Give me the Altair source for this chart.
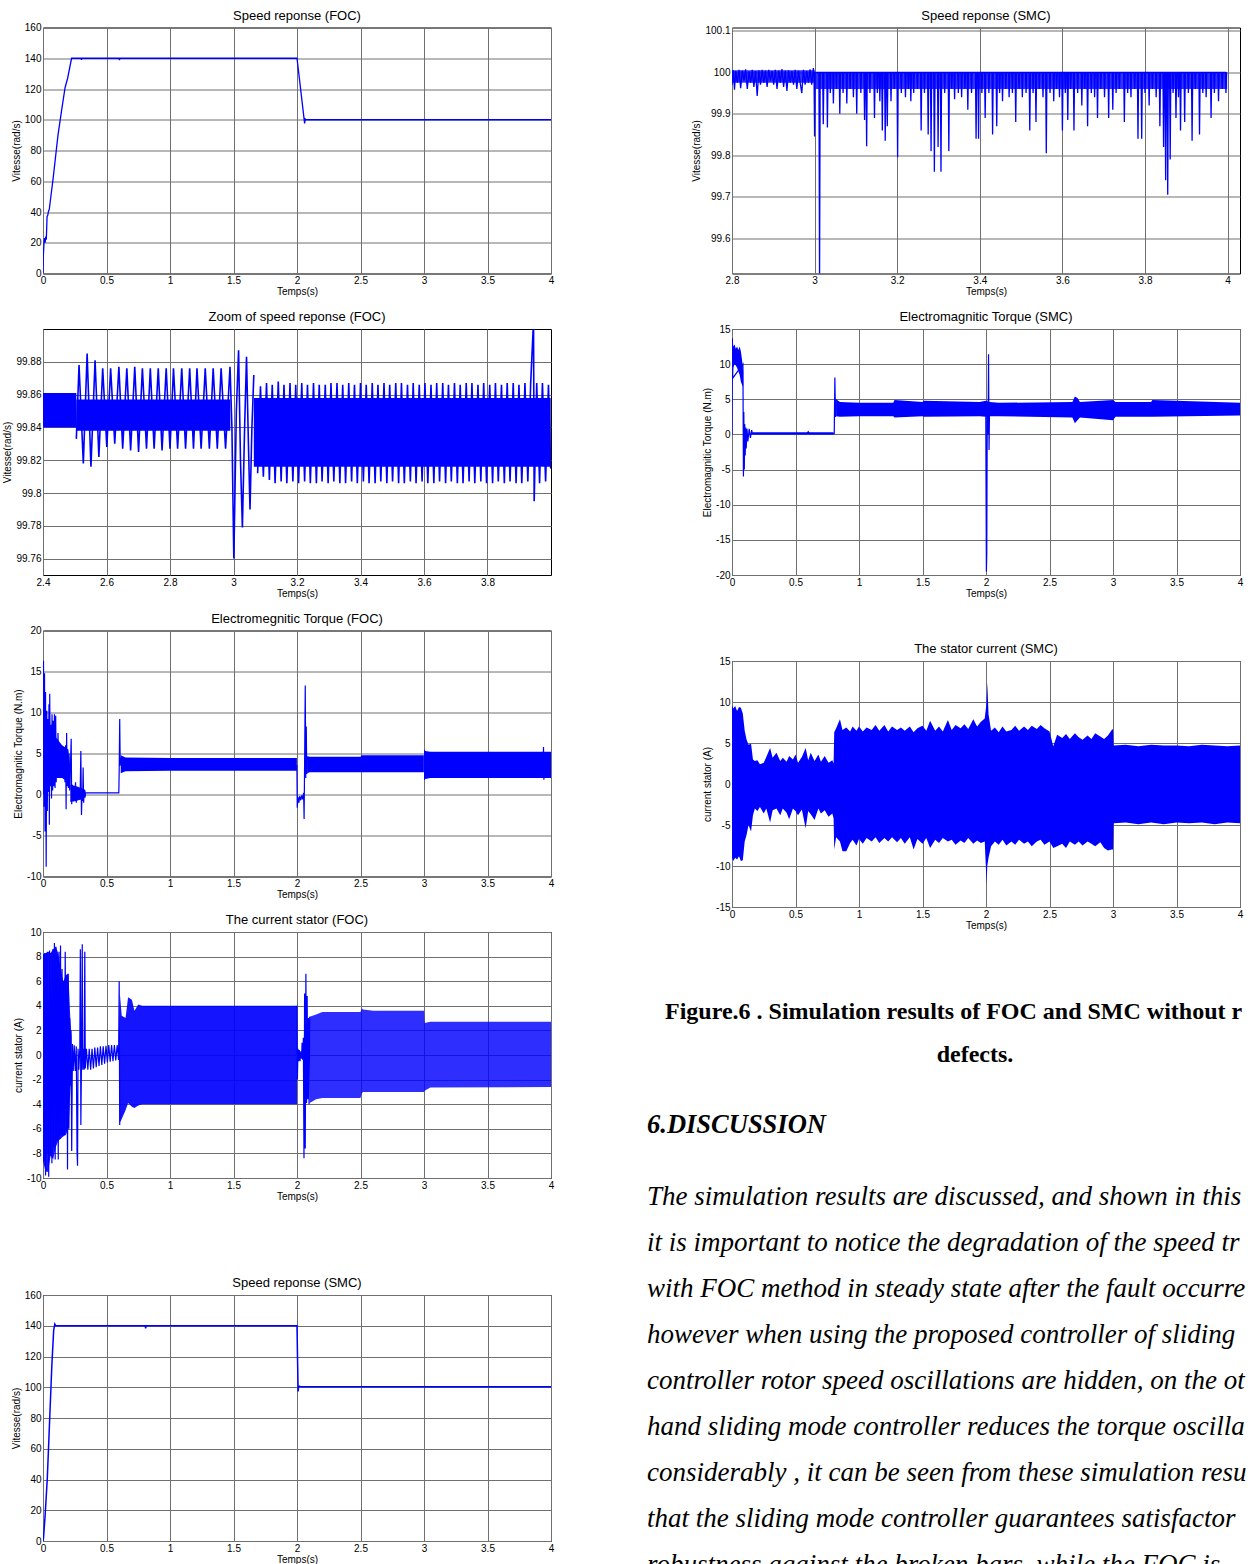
import altair as alt
import pandas as pd

BLUE = "#0000ff"
SANS = "Liberation Sans"
SERIF = "Liberation Serif"
PW, PH = 508, 246

# ---------------- tick values ----------------
ticks_t4 = [0, 0.5, 1, 1.5, 2, 2.5, 3, 3.5, 4]
ticks_zoom_foc_x = [2.4, 2.6, 2.8, 3, 3.2, 3.4, 3.6, 3.8]
ticks_zoom_smc_x = [2.8, 3, 3.2, 3.4, 3.6, 3.8, 4]
ticks_speed = [0, 20, 40, 60, 80, 100, 120, 140, 160]
ticks_zoom_foc_y = [99.76, 99.78, 99.8, 99.82, 99.84, 99.86, 99.88]
ticks_zoom_smc_y = [99.6, 99.7, 99.8, 99.9, 100, 100.1]
ticks_torque_foc = [-10, -5, 0, 5, 10, 15, 20]
ticks_current_foc = [-10, -8, -6, -4, -2, 0, 2, 4, 6, 8, 10]
ticks_torque_smc = [-20, -15, -10, -5, 0, 5, 10, 15]
ticks_current_smc = [-15, -10, -5, 0, 5, 10, 15]

# ---------------- Speed reponse (FOC) ----------------
foc_speed = [(0, 0), (0.003, 12), (0.008, 20), (0.012, 23), (0.017, 20), (0.022, 24), (0.026, 22),
             (0.032, 37), (0.038, 38), (0.042, 40), (0.05, 42), (0.056, 46), (0.08, 62), (0.118, 90),
             (0.15, 108), (0.174, 121), (0.194, 127), (0.225, 140), (0.3, 140), (0.303, 139), (0.306, 140),
             (0.6, 140), (0.602, 138.8), (0.605, 140), (2.0, 140), (2.06, 97.6), (2.065, 100.5),
             (2.072, 100), (4.0, 100)]

# ---------------- Zoom of speed reponse (FOC) ----------------
zoom_foc_band_a = [(2.4, 99.861, 99.840), (2.505, 99.861, 99.840)]
zoom_foc_band_b = [(2.505, 99.857, 99.838), (2.99, 99.857, 99.838)]
zoom_foc_band_c = [(3.064, 99.858, 99.816), (3.999, 99.858, 99.816)]
zoom_foc_transient = [(2.505, 99.833), (2.5135, 99.878), (2.527, 99.818), (2.539, 99.885), (2.551, 99.816),
                      (2.564, 99.881), (2.576, 99.822), (2.588, 99.876), (2.601, 99.828), (2.613, 99.876),
                      (2.626, 99.830), (2.639, 99.877), (2.651, 99.827), (2.664, 99.876), (2.676, 99.826),
                      (2.689, 99.877), (2.701, 99.825), (2.713, 99.876), (2.726, 99.827), (2.738, 99.876),
                      (2.750, 99.827), (2.763, 99.876), (2.775, 99.826), (2.788, 99.876), (2.800, 99.827),
                      (2.811, 99.876), (2.824, 99.827), (2.837, 99.876), (2.849, 99.827), (2.862, 99.876),
                      (2.874, 99.827), (2.885, 99.876), (2.898, 99.827), (2.911, 99.876), (2.924, 99.827),
                      (2.936, 99.876), (2.949, 99.827), (2.961, 99.876), (2.975, 99.827), (2.989, 99.877),
                      (2.995, 99.84), (3.001, 99.760), (3.009, 99.85), (3.016, 99.887), (3.022, 99.82),
                      (3.028, 99.779), (3.035, 99.84), (3.041, 99.883), (3.047, 99.83), (3.052, 99.790),
                      (3.058, 99.84), (3.064, 99.872)]
zoom_foc_tops = [(3.085, 99.865), (3.104, 99.867), (3.122, 99.866), (3.141, 99.868), (3.159, 99.866),
                 (3.178, 99.867), (3.196, 99.866), (3.215, 99.867), (3.233, 99.866), (3.252, 99.867),
                 (3.270, 99.866), (3.289, 99.866), (3.307, 99.867), (3.326, 99.867), (3.344, 99.866),
                 (3.363, 99.867), (3.381, 99.866), (3.400, 99.867), (3.418, 99.866), (3.437, 99.867),
                 (3.455, 99.866), (3.474, 99.867), (3.492, 99.866), (3.511, 99.867), (3.529, 99.867),
                 (3.548, 99.866), (3.566, 99.867), (3.585, 99.866), (3.603, 99.867), (3.622, 99.866),
                 (3.640, 99.867), (3.659, 99.867), (3.677, 99.866), (3.696, 99.867), (3.714, 99.866),
                 (3.733, 99.867), (3.751, 99.867), (3.770, 99.866), (3.788, 99.867), (3.807, 99.866),
                 (3.825, 99.867), (3.844, 99.866), (3.862, 99.867), (3.881, 99.867), (3.899, 99.866),
                 (3.918, 99.867), (3.936, 99.867), (3.945, 99.905), (3.955, 99.867), (3.973, 99.867),
                 (3.992, 99.866)]
zoom_foc_bottoms = [(3.076, 99.812), (3.094, 99.810), (3.113, 99.808), (3.131, 99.806), (3.150, 99.807),
                    (3.168, 99.806), (3.187, 99.807), (3.205, 99.806), (3.224, 99.807), (3.242, 99.806),
                    (3.261, 99.806), (3.279, 99.807), (3.298, 99.806), (3.316, 99.807), (3.335, 99.806),
                    (3.353, 99.806), (3.372, 99.807), (3.390, 99.806), (3.409, 99.807), (3.427, 99.806),
                    (3.446, 99.806), (3.464, 99.807), (3.483, 99.806), (3.501, 99.807), (3.520, 99.806),
                    (3.538, 99.806), (3.557, 99.807), (3.575, 99.806), (3.594, 99.807), (3.612, 99.806),
                    (3.631, 99.806), (3.649, 99.807), (3.668, 99.806), (3.686, 99.807), (3.705, 99.806),
                    (3.723, 99.806), (3.742, 99.807), (3.760, 99.806), (3.779, 99.807), (3.797, 99.806),
                    (3.816, 99.806), (3.834, 99.807), (3.853, 99.806), (3.871, 99.807), (3.890, 99.806),
                    (3.908, 99.806), (3.927, 99.807), (3.947, 99.795), (3.964, 99.806), (3.983, 99.807),
                    (3.999, 99.815)]

# ---------------- Electromegnitic Torque (FOC) ----------------
foc_torque_start = [(0, 0), (0.004, 16.3), (0.008, -1.5), (0.012, 14.8), (0.016, -4.5), (0.02, 12.5),
                    (0.025, -8.8), (0.03, 10.2), (0.034, -2), (0.038, 9.2), (0.042, 0.3), (0.047, 11),
                    (0.05, -3.7), (0.053, 12.3), (0.058, 1), (0.063, 8.5), (0.067, -0.5), (0.071, 9.8),
                    (0.076, 0.5), (0.08, 9), (0.085, 1), (0.09, 9.8), (0.095, 0.8), (0.1, 9.6), (0.104, 1.5),
                    (0.109, 6), (0.113, 2), (0.118, 7.5), (0.123, 2.3), (0.128, 5.5), (0.133, 2.5),
                    (0.138, 4.8), (0.143, 2.8), (0.148, 5), (0.153, 2.6), (0.158, 4.5), (0.163, 2.4),
                    (0.168, 5.2), (0.173, 1.5), (0.178, 6), (0.182, -1.8), (0.186, 7.5), (0.19, 1),
                    (0.195, 4), (0.2, 0.8), (0.205, 5), (0.21, 0.5), (0.215, 3), (0.222, 6.8),
                    (0.226, -1.2), (0.232, 1.2), (0.238, -0.6), (0.244, 1), (0.25, -0.7), (0.256, 1.5),
                    (0.262, -1), (0.268, 0.8), (0.274, -0.5), (0.28, 0.6), (0.287, -0.4), (0.293, 0.5),
                    (0.298, 5.3), (0.303, -2.5), (0.308, 0.5), (0.312, -0.8), (0.316, 3.3), (0.32, -1),
                    (0.325, 0.6), (0.33, -0.4), (0.335, 0.2), (0.597, 0.2), (0.6, 3), (0.604, 9.2),
                    (0.608, 3.5), (0.612, 4.5)]
foc_torque_fault = [(1.999, 3.6), (2.002, -1.6), (2.008, -0.3), (2.015, -1), (2.022, -0.2), (2.03, -0.7),
                    (2.038, -0.1), (2.045, -0.6), (2.052, 0.2), (2.056, -3), (2.06, 4), (2.065, 13.3),
                    (2.069, 2), (2.073, 8.3), (2.077, 2.5), (2.082, 4.5)]
foc_torque_spike = [(3.938, 3.5), (3.941, 5.8), (3.944, 1.8), (3.947, 3.5)]
foc_torque_band_a = [(0.012, 6.0, 1.0), (0.05, 7.0, 1.5), (0.1, 7.0, 2.0), (0.15, 6.0, 2.0), (0.2, 5.5, 1.5),
                     (0.215, 3.0, 0.5)]
foc_torque_band_b = [(0.215, 1.2, -0.9), (0.26, 1.0, -0.8), (0.3, 0.8, -0.6), (0.335, 0.5, -0.2)]
foc_torque_band_c = [(0.612, 4.8, 2.6), (0.65, 4.5, 2.85), (1.0, 4.45, 2.9), (1.5, 4.45, 2.9), (1.999, 4.45, 2.9)]
foc_torque_band_d = [(2.08, 4.7, 2.6), (2.1, 4.6, 2.7), (2.5, 4.6, 2.7), (2.51, 4.8, 2.7), (2.999, 4.8, 2.7)]
foc_torque_band_e = [(3.0, 5.5, 1.7), (3.01, 5.3, 1.9), (3.05, 5.2, 2.0), (4.0, 5.2, 2.0)]

# ---------------- The current stator (FOC) ----------------
foc_current_start = [(0, 0), (0.004, 8.2), (0.008, -8.6), (0.014, 8.3), (0.02, -9.8), (0.026, 8.3),
                     (0.032, -8), (0.038, 8.4), (0.045, -9.9), (0.052, 8.5), (0.058, -8.2), (0.064, 8.3),
                     (0.07, -8.8), (0.077, 8.6), (0.083, -7.5), (0.09, 9.1), (0.096, -8.5), (0.102, 8.8),
                     (0.108, -7), (0.114, 8.2), (0.12, -8.5), (0.126, 8.4), (0.132, -6.8), (0.138, 8.9),
                     (0.144, -6.5), (0.15, 7), (0.156, -6.6), (0.162, 6), (0.168, -6.5), (0.175, 8.4),
                     (0.182, -6.2), (0.188, 6.5), (0.193, -9.3), (0.198, 6.6), (0.204, -6), (0.21, 3),
                     (0.215, -2.5), (0.22, 2), (0.226, -7.8), (0.232, 0.9), (0.238, -1.3), (0.246, 0.8),
                     (0.254, -1.3), (0.262, 0.7), (0.268, -7.8), (0.272, -9.0), (0.276, 0.5), (0.282, -1.2),
                     (0.29, 0.6), (0.294, 8.6), (0.298, -5.7), (0.304, 0.4), (0.309, 9.0), (0.313, -1.2),
                     (0.318, 0.5), (0.324, -1.2), (0.329, 8.4), (0.333, -1.1), (0.342, 0.5), (0.353, -1.2),
                     (0.364, 0.5), (0.375, -1.2), (0.386, 0.5), (0.397, -1.1), (0.408, 0.6), (0.419, -1.0),
                     (0.43, 0.6), (0.441, -0.9), (0.452, 0.7), (0.463, -0.8), (0.474, 0.7), (0.485, -0.7),
                     (0.496, 0.75), (0.507, -0.6), (0.518, 0.8), (0.529, -0.55), (0.54, 0.8), (0.551, -0.5),
                     (0.562, 0.8), (0.573, -0.45), (0.584, 0.8), (0.595, -0.4), (0.6, 6.0), (0.604, -5.7)]
foc_current_fault = [(2.0, 4.0), (2.003, -2.0), (2.008, 0.5), (2.013, -0.5), (2.018, 0.4), (2.024, -0.5),
                     (2.03, 0.3), (2.036, -0.3), (2.04, 1.0), (2.046, -0.4), (2.05, 1.4), (2.055, -8.4),
                     (2.06, 5.0), (2.065, -7.6), (2.07, 6.6), (2.075, -3.9), (2.08, 4.8), (2.085, -3.6),
                     (2.09, 3.0), (2.095, -4.0), (2.1, 3.1)]
foc_current_band_a = [(0, 8.2, -8.6), (0.02, 8.3, -9.5), (0.04, 8.4, -9.5), (0.06, 8.3, -8.2), (0.08, 8.6, -8.5),
                      (0.1, 8.8, -7.5), (0.12, 8.3, -7.0), (0.14, 7.0, -6.8), (0.16, 6.0, -6.6), (0.18, 6.5, -6.5),
                      (0.2, 6.6, -6.0), (0.215, 3.0, -3.0), (0.225, 1.5, -1.2)]
foc_current_band_b = [(0.605, 5.0, -5.5), (0.62, 3.2, -5.2), (0.65, 3.0, -4.5), (0.67, 4.7, -3.9), (0.7, 4.5, -4.2),
                      (0.72, 3.6, -4.3), (0.75, 4.1, -4.1), (0.78, 4.0, -4.0), (0.8, 4.0, -4.0), (2.0, 4.0, -4.0)]
foc_current_band_c = [(2.1, 3.1, -3.9), (2.15, 3.3, -3.6), (2.2, 3.5, -3.5), (2.3, 3.5, -3.5), (2.5, 3.5, -3.5),
                      (2.51, 3.8, -3.1), (2.52, 3.7, -3.0), (2.6, 3.6, -3.0), (3.0, 3.6, -3.0)]
foc_current_band_d = [(3.0, 3.9, -3.0), (3.005, 2.6, -2.9), (3.05, 2.7, -2.65), (4.0, 2.7, -2.6)]

# ---------------- Speed reponse (SMC) ----------------
smc_speed = [(0, 0), (0.004, 2), (0.017, 17), (0.034, 41), (0.053, 80), (0.07, 115), (0.084, 137),
             (0.093, 141), (0.1, 140), (0.805, 140), (0.808, 138.3), (0.812, 140), (2.0, 140), (2.005, 115),
             (2.009, 97.3), (2.013, 100.8), (2.03, 100.4), (3.0, 100.4), (4.0, 100.3)]
smc_speed_band = [(3.0, 100.8, 100.0), (4.0, 100.8, 100.0)]

# ---------------- Speed reponse (SMC), zoom ----------------
smc_zoom_pre = [(2.8, 99.97), (2.803, 100.005), (2.806, 99.958), (2.809, 100.003), (2.813, 99.975),
                (2.817, 100.006), (2.821, 99.962), (2.825, 100.004), (2.829, 99.98), (2.833, 100.007),
                (2.837, 99.96), (2.841, 100.002), (2.845, 99.975), (2.849, 100.006), (2.853, 99.965),
                (2.857, 100.003), (2.861, 99.943), (2.865, 100.005), (2.869, 99.97), (2.873, 100.006),
                (2.877, 99.975), (2.881, 100.004), (2.885, 99.965), (2.889, 100.006), (2.893, 99.98),
                (2.897, 100.003), (2.901, 99.97), (2.905, 100.006), (2.909, 99.96), (2.913, 100.004),
                (2.917, 99.975), (2.921, 100.008), (2.925, 99.965), (2.929, 100.004), (2.933, 99.955),
                (2.937, 100.005), (2.941, 99.975), (2.945, 100.003), (2.949, 99.97), (2.953, 100.006),
                (2.957, 99.96), (2.961, 100.004), (2.965, 99.975), (2.969, 99.95), (2.973, 100.006),
                (2.977, 99.97), (2.981, 100.003), (2.985, 99.975), (2.989, 100.007), (2.993, 99.97),
                (2.997, 100.01)]
smc_zoom_dips = [(3.0, 99.845), (3.012, 99.5), (3.021, 99.875), (3.031, 99.867), (3.038, 99.95), (3.0455, 99.925),
                 (3.053, 99.96), (3.061, 99.90), (3.069, 99.95), (3.078, 99.925), (3.086, 99.96), (3.094, 99.94),
                 (3.102, 99.90), (3.112, 99.95), (3.121, 99.885), (3.126, 99.822), (3.134, 99.95), (3.145, 99.89),
                 (3.152, 99.95), (3.158, 99.93), (3.164, 99.86), (3.171, 99.835), (3.176, 99.87), (3.185, 99.93),
                 (3.193, 99.96), (3.201, 99.795), (3.21, 99.95), (3.22, 99.94), (3.227, 99.96), (3.233, 99.93),
                 (3.24, 99.95), (3.249, 99.96), (3.258, 99.86), (3.266, 99.95), (3.275, 99.85), (3.282, 99.81),
                 (3.29, 99.76), (3.299, 99.82), (3.306, 99.76), (3.315, 99.95), (3.325, 99.81), (3.332, 99.96),
                 (3.339, 99.935), (3.348, 99.95), (3.356, 99.94), (3.364, 99.96), (3.371, 99.91), (3.38, 99.95),
                 (3.391, 99.84), (3.397, 99.84), (3.405, 99.95), (3.413, 99.89), (3.422, 99.95), (3.431, 99.85),
                 (3.441, 99.87), (3.448, 99.95), (3.455, 99.93), (3.463, 99.96), (3.471, 99.94), (3.479, 99.95),
                 (3.487, 99.88), (3.495, 99.96), (3.503, 99.94), (3.512, 99.95), (3.521, 99.86), (3.529, 99.95),
                 (3.536, 99.88), (3.544, 99.96), (3.553, 99.94), (3.561, 99.805), (3.57, 99.95), (3.579, 99.93),
                 (3.586, 99.96), (3.593, 99.94), (3.6, 99.86), (3.607, 99.95), (3.613, 99.885), (3.62, 99.96),
                 (3.628, 99.86), (3.637, 99.95), (3.647, 99.92), (3.654, 99.96), (3.661, 99.87), (3.67, 99.95),
                 (3.678, 99.94), (3.685, 99.89), (3.693, 99.96), (3.702, 99.94), (3.712, 99.89), (3.722, 99.91),
                 (3.73, 99.95), (3.738, 99.96), (3.75, 99.88), (3.758, 99.95), (3.766, 99.94), (3.775, 99.96),
                 (3.783, 99.84), (3.792, 99.84), (3.8, 99.95), (3.81, 99.92), (3.818, 99.96), (3.827, 99.94),
                 (3.836, 99.87), (3.845, 99.82), (3.85, 99.74), (3.855, 99.705), (3.861, 99.79), (3.868, 99.95),
                 (3.875, 99.89), (3.881, 99.94), (3.886, 99.86), (3.896, 99.88), (3.905, 99.95), (3.914, 99.835),
                 (3.922, 99.96), (3.932, 99.85), (3.94, 99.95), (3.948, 99.94), (3.96, 99.89), (3.968, 99.95),
                 (3.978, 99.93), (3.987, 99.96), (3.996, 99.95)]
smc_zoom_band_pre = [(2.8, 100.005, 99.975), (3.0, 100.005, 99.975)]
smc_zoom_band_post = [(3.002, 100.0, 99.96), (3.999, 100.0, 99.96)]

# ---------------- Electromagnitic Torque (SMC) ----------------
smc_torque_start = [(0, 0), (0.003, 13.7), (0.006, 8), (0.086, 10), (0.09, -6), (0.093, 3.2), (0.097, -5),
                    (0.1, 1.5), (0.104, -3), (0.108, 1), (0.112, -2), (0.118, 0.8), (0.125, -1), (0.135, 0.8),
                    (0.145, -0.5), (0.155, 0.6), (0.16, 0.1), (0.59, 0.1), (0.6, 0.4), (0.61, 0.1),
                    (0.805, 0.1), (0.81, 8.1), (0.815, 2.5), (0.82, 5)]
smc_torque_fault = [(1.998, 4), (2.003, -19.5), (2.006, -17), (2.01, 3), (2.016, 0), (2.02, 11.4), (2.024, -2.2),
                    (2.028, 4)]
smc_torque_band_a = [(0.003, 13.7, 7.0), (0.01, 12.5, 9.5), (0.02, 12.8, 10.0), (0.03, 12.2, 9.8), (0.04, 12.5, 9.5),
                     (0.05, 12.0, 9.0), (0.06, 12.5, 8.5), (0.07, 11.8, 7.5), (0.08, 10.5, 7.0), (0.088, 9.0, 6.8)]
smc_torque_band_b = [(0.16, 0.3, 0.0), (0.8, 0.3, 0.0)]
smc_torque_band_c = [(0.82, 5.0, 2.6), (0.85, 4.6, 2.5), (1.0, 4.5, 2.6), (1.27, 4.5, 2.6), (1.28, 4.9, 2.4),
                     (1.5, 4.6, 2.6), (1.51, 4.8, 2.5), (1.95, 4.6, 2.6), (2.0, 4.8, 2.5), (2.03, 4.6, 2.6),
                     (2.1, 4.5, 2.6), (2.68, 4.6, 2.4), (2.7, 5.4, 1.6), (2.72, 5.2, 2.0), (2.74, 4.6, 2.4),
                     (3.0, 4.9, 2.0), (3.02, 4.6, 2.5), (3.3, 4.6, 2.5), (3.31, 4.9, 2.5), (4.0, 4.5, 2.7)]

# ---------------- The stator current (SMC) ----------------
smc_current_band = [(0.0, 9.6, -9.0), (0.01, 9.2, -9.4), (0.025, 9.5, -9.0), (0.04, 8.9, -9.2), (0.055, 9.4, -8.8),
                    (0.07, 9.3, -9.4), (0.085, 8.6, -9.3), (0.1, 6.5, -7.0), (0.115, 5.4, -6.2), (0.13, 4.8, -5.0),
                    (0.15, 4.9, -5.8), (0.165, 3.0, -3.8), (0.18, 2.8, -3.0), (0.2, 2.9, -3.3), (0.22, 2.4, -2.8),
                    (0.25, 2.6, -3.6), (0.27, 3.3, -3.0), (0.3, 4.4, -4.7), (0.32, 3.2, -3.2), (0.35, 3.8, -3.0),
                    (0.38, 2.8, -3.8), (0.4, 3.2, -3.0), (0.43, 2.7, -3.5), (0.45, 3.4, -4.3), (0.48, 3.0, -3.0),
                    (0.5, 3.6, -3.3), (0.52, 2.6, -3.8), (0.55, 3.3, -3.1), (0.58, 4.4, -5.4), (0.6, 2.9, -3.3),
                    (0.62, 3.8, -3.7), (0.65, 2.8, -4.4), (0.68, 3.6, -3.0), (0.7, 2.7, -3.6), (0.73, 3.4, -3.2),
                    (0.76, 2.6, -4.0), (0.79, 2.9, -3.6), (0.8, 2.5, -4.2), (0.805, 6.3, -8.0), (0.82, 6.8, -6.5),
                    (0.85, 7.9, -7.0), (0.87, 6.6, -8.2), (0.9, 6.9, -8.2), (0.93, 6.4, -7.2), (0.95, 7.0, -6.8),
                    (0.98, 6.5, -7.5), (1.0, 7.0, -6.7), (1.03, 6.4, -7.3), (1.06, 6.9, -6.6), (1.1, 6.6, -7.0),
                    (1.13, 7.2, -6.5), (1.16, 6.5, -7.2), (1.2, 7.2, -6.6), (1.23, 6.4, -7.0), (1.26, 7.0, -6.5),
                    (1.3, 6.6, -7.1), (1.33, 6.9, -6.6), (1.36, 6.5, -7.3), (1.4, 7.0, -6.5), (1.43, 6.3, -8.0),
                    (1.46, 6.8, -6.7), (1.5, 7.1, -7.3), (1.53, 6.5, -6.6), (1.56, 7.7, -7.8), (1.6, 6.5, -6.8),
                    (1.63, 7.0, -7.2), (1.66, 6.4, -6.6), (1.7, 7.8, -7.0), (1.73, 6.6, -6.8), (1.76, 7.2, -7.4),
                    (1.8, 6.8, -6.9), (1.83, 7.3, -7.2), (1.86, 6.7, -6.6), (1.9, 7.9, -7.3), (1.93, 7.0, -6.9),
                    (1.96, 7.6, -7.2), (1.99, 8.0, -7.0), (2.005, 10.0, -12.3), (2.01, 12.4, -10.0),
                    (2.02, 8.5, -9.0), (2.04, 6.5, -7.6), (2.07, 6.9, -7.0), (2.1, 6.3, -7.4), (2.13, 7.0, -6.8),
                    (2.16, 6.4, -7.5), (2.2, 6.6, -7.0), (2.23, 7.1, -7.4), (2.26, 6.5, -6.8), (2.3, 7.0, -7.3),
                    (2.33, 6.6, -7.0), (2.36, 7.1, -7.6), (2.4, 6.7, -7.0), (2.43, 7.2, -6.8), (2.46, 6.8, -7.4),
                    (2.5, 6.4, -7.0), (2.53, 4.6, -7.8), (2.56, 6.0, -7.6), (2.6, 5.6, -7.3), (2.63, 6.1, -7.8),
                    (2.66, 5.5, -7.0), (2.7, 6.2, -7.4), (2.73, 5.7, -7.0), (2.76, 5.4, -7.5), (2.8, 5.9, -7.0),
                    (2.83, 5.5, -7.3), (2.86, 6.2, -7.6), (2.9, 5.8, -7.1), (2.93, 5.5, -7.8), (2.96, 5.9, -8.1),
                    (2.99, 6.6, -8.0), (3.0, 6.7, -8.0), (3.005, 4.7, -4.8), (3.1, 4.8, -4.7), (3.2, 4.6, -4.9),
                    (3.3, 4.8, -4.7), (3.4, 4.7, -4.9), (3.5, 4.7, -4.7), (3.6, 4.6, -4.8), (3.7, 4.8, -4.7),
                    (3.8, 4.7, -4.9), (3.9, 4.6, -4.7), (4.0, 4.7, -4.8)]

# ---------------- page text ----------------
caption_line1 = "Figure.6 . Simulation results of FOC and SMC without rotor"
caption_line2 = "defects."
heading_text = "6.DISCUSSION"
body_lines = [
    "The simulation results are discussed, and shown in this figure,",
    "it is important to notice the degradation of the speed tracking",
    "with FOC method in steady state after the fault occurrence,",
    "however when using the proposed controller of sliding mode",
    "controller rotor speed oscillations are hidden, on the other",
    "hand sliding mode controller reduces the torque oscillations",
    "considerably , it can be seen from these simulation results",
    "that the sliding mode controller guarantees satisfactory",
    "robustness against the broken bars, while the FOC is",
]


# ---------------- helpers ----------------
def lines_df(*series):
    rows = []
    for s, pts in enumerate(series):
        for i, (t, v) in enumerate(pts):
            rows.append({"t": t, "v": v, "seg": s, "i": i})
    return pd.DataFrame(rows)


def bands_df(*series):
    rows = []
    for s, pts in enumerate(series):
        for t, hi, lo in pts:
            rows.append({"t": t, "hi": hi, "lo": lo, "seg": s})
    return pd.DataFrame(rows)


def dips_to_line(dips, top):
    pts = []
    for t, v in dips:
        pts += [(t - 0.0015, top), (t, v), (t + 0.0015, top)]
    return pts


def panel(title, xdom, xticks, ydom, yticks, ytitle, bands=(), lines=(), toff=0):
    xs = alt.Scale(domain=xdom, nice=False, zero=False)
    ys = alt.Scale(domain=ydom, nice=False, zero=False)
    xa = alt.Axis(values=xticks, title="Temps(s)", labelExpr="datum.value + ''", labelFlush=False)
    ya = alt.Axis(values=yticks, title=ytitle, labelExpr="datum.value + ''")
    layers = []
    for df, op in bands:
        layers.append(alt.Chart(df).mark_area(color=BLUE, opacity=op, clip=True, interpolate="linear").encode(
            x=alt.X("t:Q", scale=xs, axis=xa),
            y=alt.Y("hi:Q", scale=ys, axis=ya),
            y2="lo:Q",
            detail="seg:N"))
    for df, sw in lines:
        layers.append(alt.Chart(df).mark_line(color=BLUE, strokeWidth=sw, clip=True, interpolate="linear").encode(
            x=alt.X("t:Q", scale=xs, axis=xa),
            y=alt.Y("v:Q", scale=ys, axis=ya),
            detail="seg:N",
            order="i:Q"))
    return alt.layer(*layers).properties(width=PW, height=PH, title=alt.TitleParams(title, offset=toff))


def spacer(h):
    return alt.Chart(pd.DataFrame({"a": [0]})).mark_rule(opacity=0).encode(
        x=alt.value(1), y=alt.value(0), y2=alt.value(1)
    ).properties(width=PW, height=h, view=alt.ViewBackground(strokeOpacity=0))


# ---------------- panels ----------------
pA = panel("Speed reponse (FOC)", [0, 4], ticks_t4, [0, 160], ticks_speed, "Vitesse(rad/s)",
           lines=[(lines_df(foc_speed), 1.3)])

zoom_foc_post = sorted(zoom_foc_tops + zoom_foc_bottoms)
pB = panel("Zoom of speed reponse (FOC)", [2.4, 4.0], ticks_zoom_foc_x, [99.75, 99.9], ticks_zoom_foc_y,
           "Vitesse(rad/s)",
           bands=[(bands_df(zoom_foc_band_a, zoom_foc_band_b, zoom_foc_band_c), 1.0)],
           lines=[(lines_df(zoom_foc_transient, zoom_foc_post), 1.6)], toff=5)

pC = panel("Electromegnitic Torque (FOC)", [0, 4], ticks_t4, [-10, 20], ticks_torque_foc,
           "Electromagnitic Torque (N.m)",
           bands=[(bands_df(foc_torque_band_a, foc_torque_band_b, foc_torque_band_c,
                            foc_torque_band_d, foc_torque_band_e), 1.0)],
           lines=[(lines_df(foc_torque_start, foc_torque_fault, foc_torque_spike), 1.2)])

pD = panel("The current stator (FOC)", [0, 4], ticks_t4, [-10, 10], ticks_current_foc, "current stator (A)",
           bands=[(bands_df(foc_current_band_a, foc_current_band_b), 0.92),
                  (bands_df(foc_current_band_c, foc_current_band_d), 0.82)],
           lines=[(lines_df(foc_current_start, foc_current_fault), 1.2)])

pE = panel("Speed reponse (SMC)", [0, 4], ticks_t4, [0, 160], ticks_speed, "Vitesse(rad/s)",
           bands=[(bands_df(smc_speed_band), 0.35)],
           lines=[(lines_df(smc_speed), 1.5)])

smc_zoom_post = sorted(dips_to_line(smc_zoom_dips, 100.0))
pF = panel("Speed reponse (SMC)", [2.8, 4.03], ticks_zoom_smc_x, [99.515, 100.108], ticks_zoom_smc_y,
           "Vitesse(rad/s)",
           bands=[(bands_df(smc_zoom_band_pre, smc_zoom_band_post), 0.8)],
           lines=[(lines_df(smc_zoom_pre + [(3.0, 99.99)] + smc_zoom_post), 1.3)], toff=3)

pG = panel("Electromagnitic Torque (SMC)", [0, 4], ticks_t4, [-20, 15], ticks_torque_smc,
           "Electromagnitic Torque (N.m)",
           bands=[(bands_df(smc_torque_band_a, smc_torque_band_b, smc_torque_band_c), 1.0)],
           lines=[(lines_df(smc_torque_start, smc_torque_fault), 1.2)])

pH = panel("The stator current (SMC)", [0, 4], ticks_t4, [-15, 15], ticks_current_smc, "current stator (A)",
           bands=[(bands_df(smc_current_band), 1.0)])

# ---------------- text block ----------------
TX0 = -85          # text left edge relative to the right column's plot origin
TEXT_H = 574
NOELL = "\u200b"
body_df = pd.DataFrame({"line": list(range(len(body_lines))), "txt": body_lines})
body = alt.Chart(body_df).mark_text(font=SERIF, fontSize=27, fontStyle="italic", align="left",
                                    baseline="alphabetic", color="black", limit=600, ellipsis=NOELL).encode(
    x=alt.value(TX0),
    y=alt.Y("line:Q", scale=alt.Scale(domain=[0, 8], range=[215, 583]), axis=None),
    text="txt:N")
cap1 = alt.Chart(pd.DataFrame({"txt": [caption_line1]})).mark_text(
    font=SERIF, fontSize=24, fontWeight="bold", align="left", baseline="alphabetic", color="black",
    limit=582, ellipsis=NOELL).encode(x=alt.value(TX0 + 18), y=alt.value(29), text="txt:N")
cap2 = alt.Chart(pd.DataFrame({"txt": [caption_line2]})).mark_text(
    font=SERIF, fontSize=24, fontWeight="bold", align="center", baseline="alphabetic", color="black").encode(
    x=alt.value(243), y=alt.value(72), text="txt:N")
head = alt.Chart(pd.DataFrame({"txt": [heading_text]})).mark_text(
    font=SERIF, fontSize=26.5, fontWeight="bold", fontStyle="italic", align="left", baseline="alphabetic",
    color="black").encode(x=alt.value(TX0), y=alt.value(143), text="txt:N")
text_block = alt.layer(body, cap1, cap2, head).properties(
    width=PW, height=TEXT_H, view=alt.ViewBackground(strokeOpacity=0))

# ---------------- layout ----------------
S1 = 12.5
left = alt.vconcat(pA, pB, pC, pD, spacer(48.5), pE, spacing=S1)
right = alt.vconcat(pF, pG, spacer(17.5), pH, spacer(34), text_block, spacing=S1)

chart = alt.hconcat(left, right, spacing=92).properties(
    padding={"left": 2, "top": 8.5, "right": 0, "bottom": -15}, background="white"
).configure_view(
    stroke="black", strokeWidth=1
).configure_axis(
    labelFont=SANS, labelFontSize=10, labelColor="black",
    titleFont=SANS, titleFontSize=10, titleFontWeight="normal", titleColor="black",
    grid=True, gridColor="#707070", gridWidth=1, gridOpacity=1,
    domain=False, ticks=False
).configure_axisX(
    labelPadding=2, titlePadding=1
).configure_axisY(
    labelPadding=2, titlePadding=3
).configure_title(
    font=SANS, fontSize=13, fontWeight="normal", color="black"
)

chart.save("out.html", embed_options={"renderer": "svg", "actions": False})
